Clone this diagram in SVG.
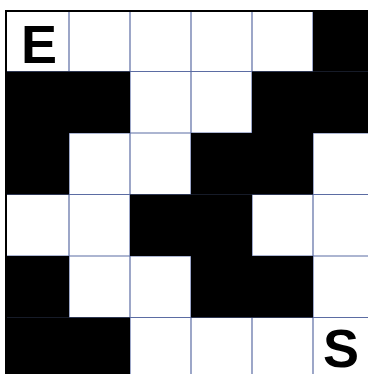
<svg xmlns="http://www.w3.org/2000/svg" width="368" height="374" viewBox="0 0 368 374">
<style>
.b{fill:#000}
.g line{stroke:#5b6ca3;stroke-width:1.2}
.t{font-family:"Liberation Sans",Arial,sans-serif;font-weight:bold;font-size:54px;fill:#000;text-anchor:middle}
</style>
<rect width="368" height="374" fill="#fff"/>
<g id="grid" class="g">
<line x1="69" y1="10" x2="69" y2="374"/>
<line x1="130" y1="10" x2="130" y2="374"/>
<line x1="191" y1="10" x2="191" y2="374"/>
<line x1="252" y1="10" x2="252" y2="374"/>
<line x1="313" y1="10" x2="313" y2="374"/>
<line x1="6" y1="71.5" x2="368" y2="71.5"/>
<line x1="6" y1="133" x2="368" y2="133"/>
<line x1="6" y1="194.5" x2="368" y2="194.5"/>
<line x1="6" y1="256" x2="368" y2="256"/>
<line x1="6" y1="317.5" x2="368" y2="317.5"/>
</g>
<g id="walls" class="b">
<rect x="313" y="10" width="55" height="61.5"/>
<rect x="6" y="71.5" width="124" height="61.5"/>
<rect x="252" y="71.5" width="116" height="61.5"/>
<rect x="6" y="133" width="63" height="61.5"/>
<rect x="191" y="133" width="122" height="61.5"/>
<rect x="130" y="194.5" width="122" height="61.5"/>
<rect x="6" y="256" width="63" height="61.5"/>
<rect x="191" y="256" width="122" height="61.5"/>
<rect x="6" y="317.5" width="124" height="56.5"/>
</g>
<rect id="border" x="6" y="11" width="370" height="370" fill="none" stroke="#000" stroke-width="2"/>
<g id="end"><text class="t" x="39" y="63">E</text></g>
<g id="start"><text class="t" x="341" y="367">S</text></g>
</svg>
